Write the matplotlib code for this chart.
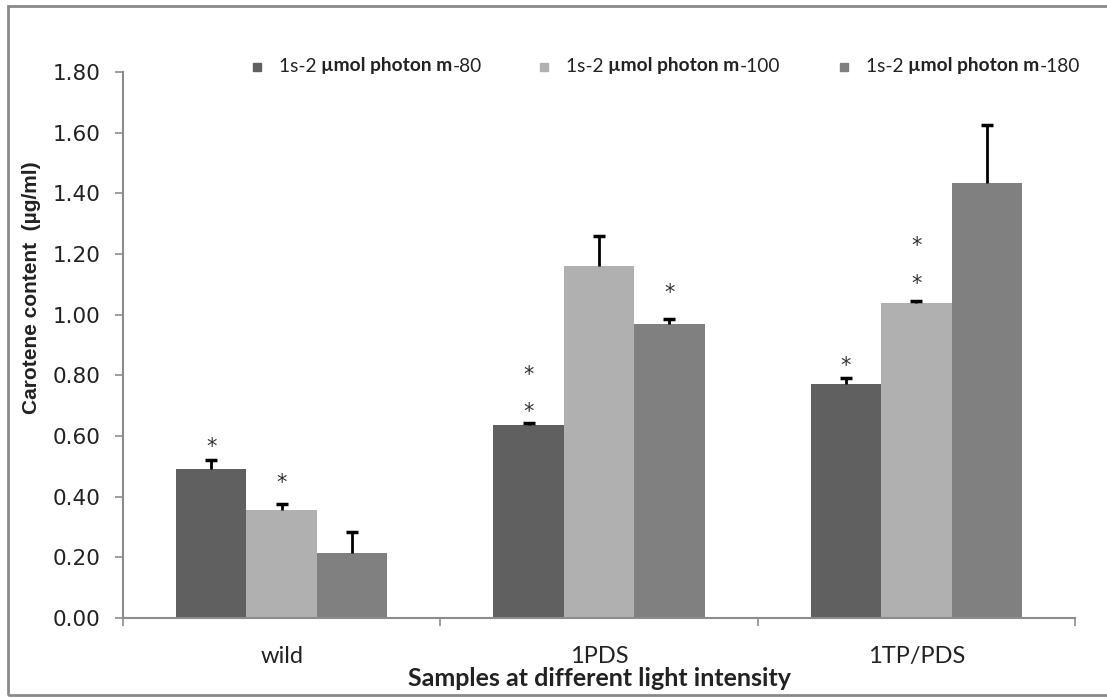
import matplotlib
matplotlib.use("Agg")
import matplotlib.pyplot as plt
from matplotlib.patches import Rectangle
import numpy as np

# data
categories = ["wild", "1PDS", "1TP/PDS"]
series_suffix = ["-80", "-100", "-180"]
light_80 = [0.49, 0.635, 0.77]
light_100 = [0.355, 1.16, 1.04]
light_180 = [0.215, 0.97, 1.435]
err_80 = [0.03, 0.007, 0.02]
err_100 = [0.02, 0.10, 0.006]
err_180 = [0.07, 0.015, 0.19]
# asterisks: (series index, category index, y in data units)
stars = [
    (0, 0, 0.565), (1, 0, 0.445),
    (0, 1, 0.68), (0, 1, 0.80), (2, 1, 1.07),
    (0, 2, 0.83), (1, 2, 1.10), (1, 2, 1.225),
]
yticks = [0.0, 0.2, 0.4, 0.6, 0.8, 1.0, 1.2, 1.4, 1.6, 1.8]

colors = ["#606060", "#b0b0b0", "#808080"]
axis_grey = "#8c8c8c"
W, H = 1107, 698

fig = plt.figure(figsize=(W / 100, H / 100), dpi=100)
ax = fig.add_axes([123 / W, 1 - 618 / H, (1075 - 123) / W, (618 - 72) / H])

values = [light_80, light_100, light_180]
errors = [err_80, err_100, err_180]
x = np.arange(len(categories))
bw = 0.222
for i, (vals, errs) in enumerate(zip(values, errors)):
    pos = x + (i - 1) * bw
    ax.bar(pos, vals, bw, color=colors[i], zorder=2)
    eb = ax.errorbar(pos, vals, yerr=[np.zeros(len(vals)), errs], fmt="none",
                     ecolor="black", elinewidth=2, capsize=4.5, capthick=2.5,
                     zorder=3)
    # upper error only: hide the lower caps
    eb[1][0].set_visible(False)

for s, c, yy in stars:
    ax.text(x[c] + (s - 1) * bw, yy, "*", ha="center", va="center",
            fontsize=15, color="#333333", family="DejaVu Sans")

ax.set_xlim(-0.5, 2.5)
ax.set_ylim(0, 1.8)
ax.set_yticks(yticks)
ax.set_yticklabels([f"{v:.2f}" for v in yticks], fontsize=15.5,
                   family="DejaVu Sans", color="#222222")
ax.set_xticks([-0.5, 0.5, 1.5, 2.5])
ax.set_xticklabels([])
ax.set_xticks(x, minor=True)
ax.set_xticklabels(categories, minor=True, fontsize=17,
                   family=["Lato", "DejaVu Sans"], color="#222222")
ax.tick_params(axis="x", which="minor", length=0, pad=20)
ax.tick_params(axis="x", which="major", length=6, color=axis_grey, width=1.2)
ax.tick_params(axis="y", length=6, color=axis_grey, width=1.2, pad=10)
for side in ["top", "right"]:
    ax.spines[side].set_visible(False)
for side in ["left", "bottom"]:
    ax.spines[side].set_color(axis_grey)
    ax.spines[side].set_linewidth(1.5)

ax.set_xlabel("Samples at different light intensity", fontsize=18,
              fontweight="bold", family=["Lato", "DejaVu Sans"],
              color="#222222", labelpad=0)
fig.text(32 / W, 1 - 288 / H, "Carotene content  (\u00b5g/ml)", rotation=90,
         ha="center", va="center", fontsize=15, fontweight="bold",
         family=["Liberation Sans", "DejaVu Sans"], color="#222222")

# legend drawn as chained text pieces (mixed weights)
leg_x = [257, 544, 844]
leg_y = 1 - 66 / H
lfont = dict(fontsize=13.8, family=["Lato", "DejaVu Sans"], color="#222222")
for i in range(3):
    fig.patches.append(Rectangle(((leg_x[i] - 4) / W, leg_y - 4.5 / H), 8 / W, 8 / H,
                                 transform=fig.transFigure, color=colors[i]))
    t1 = fig.text((leg_x[i] + 22) / W, leg_y, "1s-2 ", va="center", ha="left", **lfont)
    t2 = ax.annotate("\u00b5mol photon m", xy=(1, 0), xycoords=t1, va="bottom",
                     ha="left", fontweight="bold", **lfont)
    ax.annotate(series_suffix[i], xy=(1, 0), xycoords=t2, va="bottom",
                ha="left", **lfont)

# outer frame
fig.patches.append(Rectangle((8 / W, 3 / H), 1.2, 1 - 9 / H, transform=fig.transFigure,
                             fill=False, edgecolor="#8a8a8a", linewidth=2))

fig.savefig("out.png", dpi=100)
